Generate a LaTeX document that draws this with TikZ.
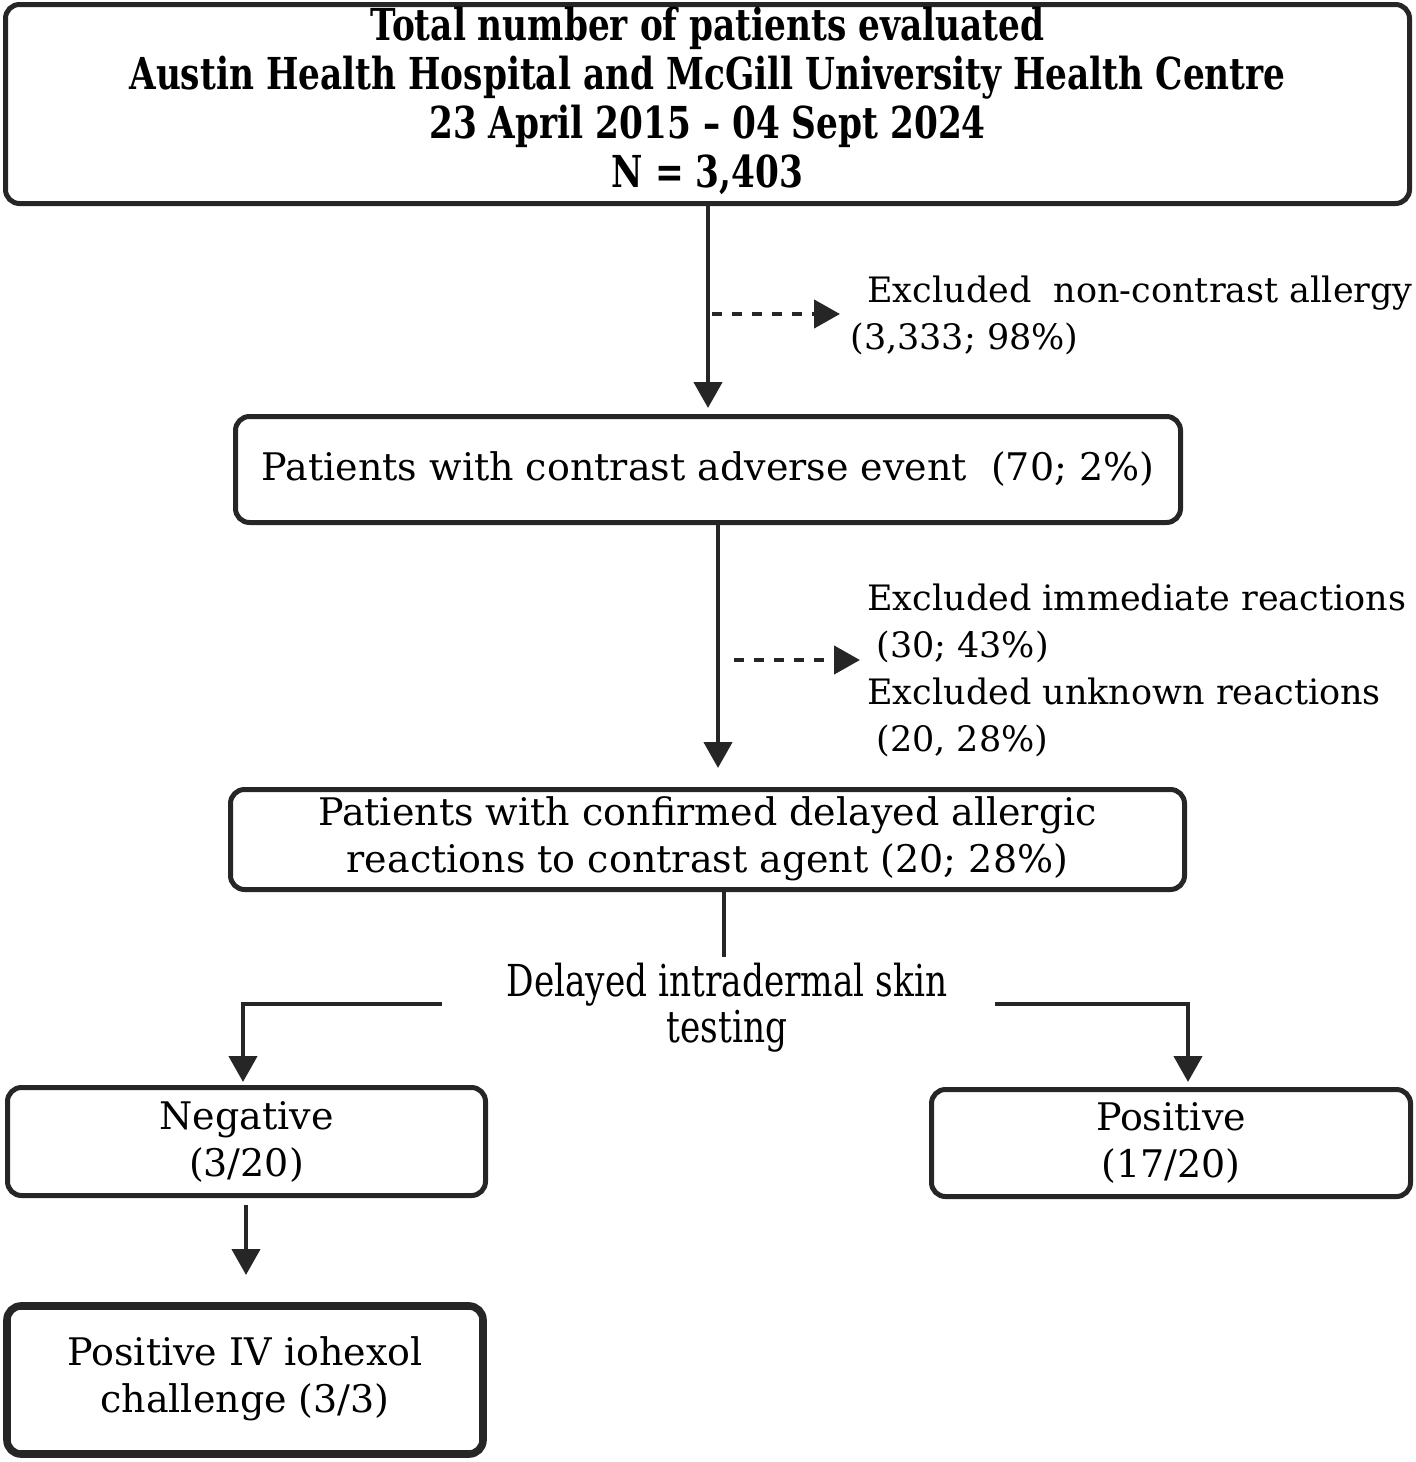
\documentclass[tikz,border=0pt]{standalone}
\usepackage{fontspec}
\setmainfont{DejaVu Serif}
\newfontfamily\condfont[FakeStretch=0.78]{DejaVu Serif}
\usetikzlibrary{arrows.meta}
\definecolor{ink}{HTML}{262626}
\tikzset{
 box/.style={draw=ink, line width=2.5pt, rounded corners=7pt, align=center, inner sep=0pt, text=black},
 conn/.style={draw=ink, line width=2.2pt, -{Triangle[width=14pt,length=13pt]}},
 dconn/.style={conn, dash pattern=on 5pt off 5pt},
 plain/.style={draw=ink, line width=2.2pt},
 txt/.style={font=\fontsize{19}{23.5}\selectfont, text=black},
 sidetxt/.style={font=\fontsize{17.5}{23.5}\selectfont, text=black},
 toptxt/.style={font=\condfont\bfseries\fontsize{22}{24.5}\selectfont},
}
\begin{document}
\begin{tikzpicture}[x=0.5pt,y=-0.5pt]
\useasboundingbox (0,0) rectangle (1416,1462);
% boxes
\node[box, toptxt, minimum width=702pt, minimum height=99.5pt] (top) at (707.5,104)
 {\raisebox{-1.5pt}{\begin{tabular}{@{}c@{}}Total number of patients evaluated\\Austin Health Hospital and McGill University Health Centre\\23 April 2015 – 04 Sept 2024\\N = 3,403\end{tabular}}};
\node[box, txt, minimum width=472.5pt, minimum height=53pt] (b2) at (708,469.5)
 {\raisebox{-1.5pt}{Patients with contrast adverse event\ \ (70; 2\%)}};
\node[box, txt, minimum width=477pt, minimum height=50pt] (b3) at (707.5,839.5)
 {\raisebox{-2pt}{\begin{tabular}{@{}c@{}}Patients with confirmed delayed allergic\\reactions to contrast agent (20; 28\%)\end{tabular}}};
\node[box, txt, minimum width=239pt, minimum height=54pt] (neg) at (246.5,1141.5)
 {Negative\\(3/20)};
\node[box, txt, minimum width=239.5pt, minimum height=53.5pt] (pos) at (1171,1143)
 {Positive\\(17/20)};
\node[box, txt, line width=3.8pt, minimum width=238pt, minimum height=74pt] (fin) at (245,1380)
 {\raisebox{-1.5pt}{\begin{tabular}{@{}c@{}}Positive IV iohexol\\challenge (3/3)\end{tabular}}};
% side texts
\node[sidetxt, anchor=north west, align=left, inner sep=0pt] (ex1) at (850,276)
 {\hspace*{8.5pt}Excluded\ \ non-contrast allergy\\(3,333; 98\%)};
\node[sidetxt, anchor=north west, align=left, inner sep=0pt] (ex2) at (867,583)
 {Excluded immediate reactions\\\hspace*{4.5pt}(30; 43\%)\\Excluded unknown reactions\\\hspace*{4.5pt}(20, 28\%)};
\node[font=\condfont\fontsize{22}{23}\selectfont, text=black, align=center, inner sep=0pt] (dt) at (727,1008)
 {Delayed intradermal skin\\testing};
% coordinates
\coordinate (a1) at (708,408);
\coordinate (d1s) at (712,314);
\coordinate (d1e) at (840,314);
\coordinate (a2) at (718,768);
\coordinate (d2s) at (734,660);
\coordinate (d2e) at (860,660);
\coordinate (a3) at (724,957);
\coordinate (ls) at (442,1004);
\coordinate (lc) at (243,1004);
\coordinate (le) at (243,1082);
\coordinate (rs) at (995,1004);
\coordinate (rc) at (1188,1004);
\coordinate (re) at (1188,1082);
\coordinate (n1) at (246,1205);
\coordinate (n2) at (246,1275);
% connectors
\draw[conn] (top.south -| a1) -- (a1);
\draw[dconn] (d1s) -- (d1e);
\draw[conn] (b2.south -| a2) -- (a2);
\draw[dconn] (d2s) -- (d2e);
\draw[plain] (b3.south -| a3) -- (a3);
\draw[conn] (ls) -- (lc) -- (le);
\draw[conn] (rs) -- (rc) -- (re);
\draw[conn] (n1) -- (n2);
\end{tikzpicture}
\end{document}
